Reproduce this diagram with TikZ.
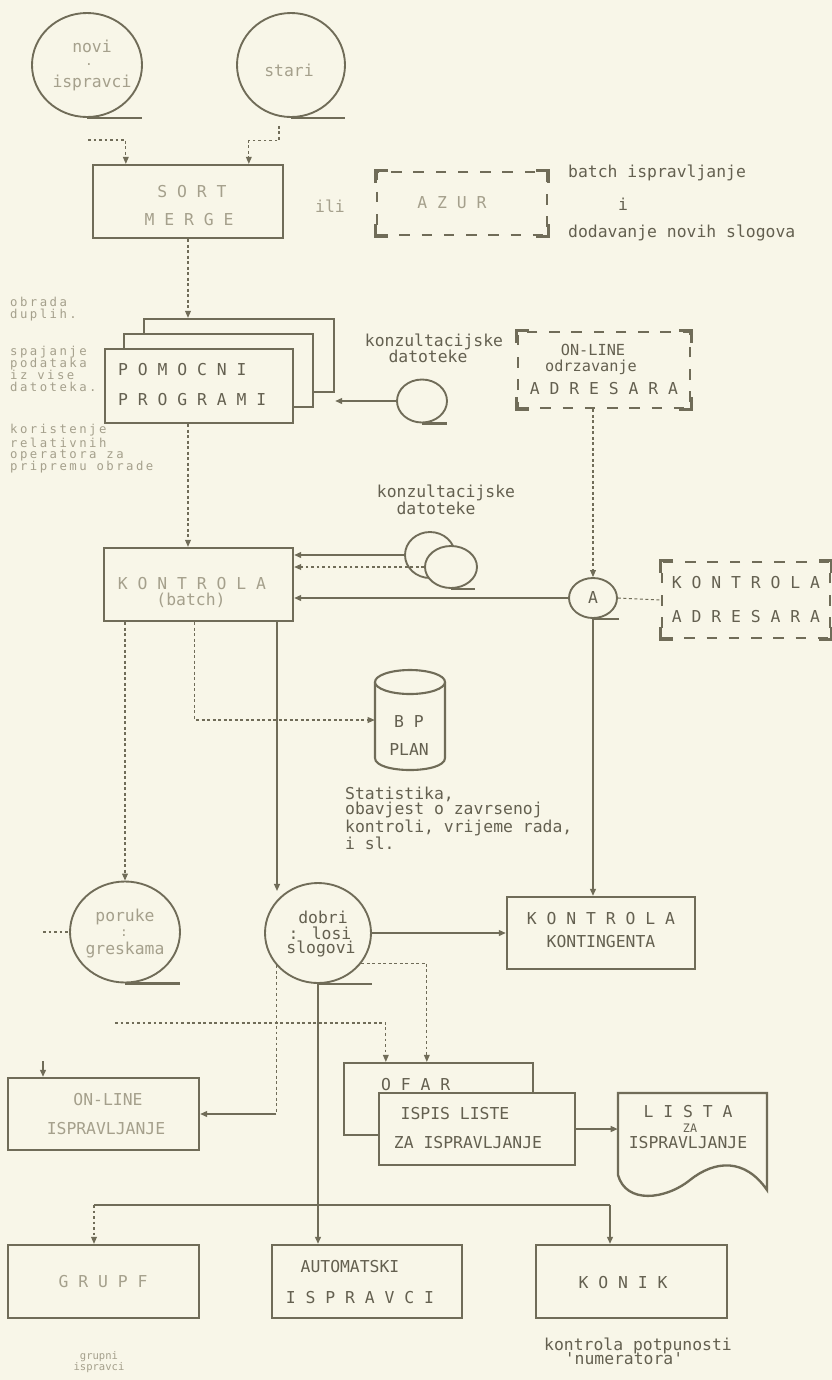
\documentclass[tikz,border=0pt]{standalone}
\usepackage{fontspec}
\newfontfamily\dm{DejaVu Sans Mono}
\newfontfamily\dml[LetterSpace=20]{DejaVu Sans Mono}
\usetikzlibrary{arrows.meta,shapes.geometric}
\definecolor{bg}{RGB}{248,246,232}
\definecolor{ink}{RGB}{112,108,88}
\definecolor{txt}{RGB}{100,96,80}
\definecolor{ftxt}{RGB}{165,160,140}
\newcommand\dashcorners[1]{%
 \draw[brk] (#1.north west) ++(0,12) -- ++(0,-12) -- ++(12,0);
 \draw[brk] (#1.north east) ++(0,12) -- ++(0,-12) -- ++(-12,0);
 \draw[brk] (#1.south west) ++(0,-12) -- ++(0,12) -- ++(12,0);
 \draw[brk] (#1.south east) ++(0,-12) -- ++(0,12) -- ++(-12,0);}
\begin{document}
\begin{tikzpicture}[x=0.3mm,y=-0.3mm,
 sz/.style 2 args={minimum width=#1*0.3mm,minimum height=#2*0.3mm},
 box/.style={draw=ink,line width=2pt,rectangle,inner sep=0pt},
 fbox/.style={box,fill=bg},
 dbox/.style={draw=ink,line width=2.2pt,dash pattern=on 9pt off 10pt,rectangle,inner sep=0pt},
 brk/.style={draw=ink,line width=2.2pt},
 tape/.style={draw=ink,line width=1.6pt,ellipse,inner sep=0pt,fill=bg},
 tail/.style={draw=ink,line width=2pt},
 conn/.style={draw=ink,line width=1.3pt},
 dconn/.style={draw=ink,line width=0.9pt,dash pattern=on 2.5pt off 2.2pt},
 arr/.style={-{Triangle[length=6pt,width=5pt]}},
 lab/.style={font=\dm\fontsize{14}{14}\selectfont,text=txt,inner sep=0pt},
 flab/.style={lab,text=ftxt},
 small/.style={font=\dml\fontsize{10.5}{10.2}\selectfont,text=ftxt,inner sep=0pt,align=left},
]
\fill[bg] (0,0) rectangle (832,1380);
\useasboundingbox (0,0) rectangle (832,1380);

% ---------- top tapes ----------
\node[tape,sz={110}{104}] (tnovi) at (87,65) {};
\draw[tail] (tnovi.south) -- ++(55,0);
\node[flab] (tn1) at (92,46) {novi};
\node[flab,font=\dm\fontsize{11}{11}\selectfont] (tn2) at (89,65) {.};
\node[flab] (tn3) at (92,83) {ispravci};
\node[tape,sz={108}{104}] (tstari) at (291,65) {};
\draw[tail] (tstari.south) -- ++(54,0);
\node[flab] (ts1) at (289,70) {stari};

% ---------- SORT MERGE ----------
\node[box,sz={190}{73}] (sort) at (188,201.5) {};
\node[flab] (sort1) at (192,192) {S O R T};
\node[flab] (sort2) at (189,220) {M E R G E};
\coordinate (cnovi) at (88,140);
\draw[dconn,arr] (cnovi) -| ([xshift=10.2mm]sort.north west);
\draw[dconn,arr] ([xshift=-3.6mm,yshift=-2.4mm]tstari.south) -- ++(0,15) -| ([xshift=47.1mm]sort.north west);
\node[flab] (ili) at (330,206) {ili};

% ---------- AZUR ----------
\node[dbox,sz={170}{63}] (azur) at (462,203.5) {};
\dashcorners{azur}
\node[flab] (azurt) at (452,203) {A Z U R};
\node[lab,anchor=west] (batch) at (568,173) {batch ispravljanje};
\node[lab] (ii) at (623,204) {i};
\node[lab,anchor=west] (dodav) at (568,233) {dodavanje novih slogova};

% ---------- POMOCNI PROGRAMI ----------
\node[box,sz={190}{73}] (pback) at (239,355.5) {};
\node[fbox,sz={189}{73}] (pmid) at (218.5,370.5) {};
\node[fbox,sz={188}{74}] (pfront) at (199,386) {};
\node[lab,anchor=west] (pom1) at (118,370) {P O M O C N I};
\node[lab,anchor=west] (pom2) at (118,400) {P R O G R A M I};
\draw[dconn,arr] (sort.south) -- (sort.south |- pback.north);

\node[small,anchor=west] (ann1) at (10,309) {obrada\\duplih.};
\node[small,anchor=west] (ann2) at (10,369) {spajanje\\podataka\\iz vise\\datoteka.};
\node[small,anchor=west] (ann3) at (10,449) {koristenje\\relativnih\\operatora za\\pripremu obrade};

% ---------- konzultacijske (upper) ----------
\node[lab] (kz1) at (434,342) {konzultacijske};
\node[lab] (kz2) at (428,356) {datoteke};
\node[tape,sz={50}{43}] (tk1) at (422,401) {};
\draw[tail] (tk1.south) -- ++(25,0);
\draw[conn,arr] (tk1.west) -- (tk1.west -| pback.east);

% ---------- ON-LINE odrzavanje ADRESARA ----------
\node[dbox,sz={172}{76}] (online) at (604,370) {};
\dashcorners{online}
\node[lab,font=\dm\fontsize{13}{13}\selectfont] (on1) at (593,350) {ON-LINE};
\node[lab,font=\dm\fontsize{13}{13}\selectfont] (on2) at (591,367) {odrzavanje};
\node[lab] (on3) at (604,389) {A D R E S A R A};

% ---------- KONTROLA batch ----------
\node[box,sz={189}{73}] (kbatch) at (198.5,584.5) {};
\node[flab] (kb1) at (192,584) {K O N T R O L A};
\node[flab] (kb2) at (191,600) {(batch)};
\draw[dconn,arr] (pfront.south -| sort.south) -- (sort.south |- kbatch.north);

% konzultacijske (lower), double tape
\node[lab] (kz3) at (446,493) {konzultacijske};
\node[lab] (kz4) at (436,508) {datoteke};
\node[tape,sz={50}{46}] (tk2b) at (430,555) {};
\node[tape,sz={52}{42}] (tk2f) at (451,567) {};
\draw[tail] (tk2f.south) -- ++(24,0);
\draw[conn,arr] (tk2b.west) -- (tk2b.west -| kbatch.east);
\draw[dconn,arr] (tk2f.west) -- (tk2f.west -| kbatch.east);

% circle A
\node[tape,sz={48}{40}] (tA) at (593,598) {};
\draw[tail] (tA.south) -- ++(26,0);
\node[lab] (tAt) at (593,598) {A};
\draw[dconn,arr] (tA.north |- online.south) -- (tA.north);
\draw[conn,arr] (tA.west) -- (tA.west -| kbatch.east);

% KONTROLA ADRESARA
\node[dbox,sz={168}{76}] (kadr) at (746,600) {};
\dashcorners{kadr}
\node[lab] (ka1) at (746,583) {K O N T R O L A};
\node[lab] (ka2) at (746,617) {A D R E S A R A};
\draw[dconn] (tA.east) -- (kadr.west);

% ---------- BP PLAN cylinder ----------
\node[inner sep=0pt,sz={70}{100}] (bp) at (410,720) {};
\draw[ink,line width=1.8pt,fill=bg] (375,682) -- (375,758) .. controls (375,774) and (445,774) .. (445,758) -- (445,682);
\draw[ink,line width=1.8pt,fill=bg] (410,682) ellipse [x radius=35,y radius=12];
\node[lab] (bp1) at (409,722) {B P};
\node[lab] (bp2) at (409,750) {PLAN};
\draw[dconn,arr] ([xshift=27.6mm]kbatch.south west) |- (bp.west);
\node[lab,anchor=west,align=left,font=\dm\fontsize{14}{9.6}\selectfont] (stat) at (345,818) {Statistika,\\obavjest o zavrsenoj\\kontroli, vrijeme rada,\\i sl.};

% ---------- circles pisuke / dobri ----------
\node[tape,sz={110}{101}] (tpis) at (125,932) {};
\draw[tail] (tpis.south) -- ++(55,0);
\node[flab] (tp1) at (125,917) {poruke};
\node[flab,font=\dm\fontsize{11}{11}\selectfont] (tp2) at (124,933) {:};
\node[flab] (tp3) at (125,950) {greskama};
\coordinate (pstub) at (43,932);
\draw[dconn] (pstub) -- (tpis.west);
\draw[dconn,arr] (tpis.north |- kbatch.south) -- (tpis.north);

\node[tape,sz={106}{100}] (tdob) at (318,933) {};
\draw[tail] (tdob.south) -- ++(54,0);
\node[lab] (td1) at (323,917) {dobri};
\node[lab] (td2) at (320,933) {: losi};
\node[lab] (td3) at (321,949) {slogovi};
\coordinate (dobin) at (277,891);
\draw[conn,arr] (kbatch.south -| dobin) -- (dobin);

% KONTROLA KONTINGENTA
\node[box,sz={188}{72}] (kkont) at (601,933) {};
\node[lab] (kk1) at (601,919) {K O N T R O L A};
\node[lab] (kk2) at (601,942) {KONTINGENTA};
\draw[conn,arr] (tdob.east) -- (kkont.west);
\draw[conn,arr] (tA.south) -- (tA.south |- kkont.north);

% ---------- OFAR / ISPIS LISTE ----------
\node[box,sz={189}{72}] (ofar) at (438.5,1099) {};
\node[lab,anchor=west] (of1) at (381,1085) {O F A R};
\node[fbox,sz={196}{72}] (ispis) at (477,1129) {};
\node[lab] (is1) at (455,1114) {ISPIS LISTE};
\node[lab] (is2) at (468,1143) {ZA ISPRAVLJANJE};
\draw[dconn,arr] (tdob.-35) -| ([xshift=25.2mm]ofar.north west);
\coordinate (fr) at (115,1023);
\draw[dconn,arr] (fr) -| ([xshift=12.9mm]ofar.north west);

% LISTA document
\node[inner sep=0pt,sz={149}{97}] (lista) at (692.5,1141.5) {};
\draw[ink,line width=2pt,fill=bg] (618,1175) -- (618,1093) -- (767,1093) -- (767,1190)
  .. controls (745,1158) and (715,1160) .. (690,1180)
  .. controls (665,1200) and (626,1204) .. (618,1175) -- cycle;
\node[lab] (li1) at (688,1112) {L I S T A};
\node[lab,font=\dm\fontsize{10}{10}\selectfont] (li2) at (690,1128) {ZA};
\node[lab] (li3) at (688,1143) {ISPRAVLJANJE};
\draw[conn,arr] (ispis.east) -- (ispis.east -| lista.west);

% ON-LINE ISPRAVLJANJE
\node[box,sz={191}{72}] (onl2) at (103.5,1114) {};
\node[flab] (ol1) at (108,1100) {ON-LINE};
\node[flab] (ol2) at (106,1129) {ISPRAVLJANJE};
\draw[dconn] (tdob.218) -- (tdob.218 |- onl2.east);
\draw[conn,arr] (tdob.218 |- onl2.east) -- (onl2.east);
\coordinate (ostub) at (43,1061);
\draw[conn,arr] (ostub) -- (ostub |- onl2.north);

% ---------- bottom row ----------
\node[box,sz={191}{73}] (grupf) at (103.5,1281.5) {};
\node[flab] (gr1) at (103,1282) {G R U P F};
\node[box,sz={190}{73}] (auto) at (367,1281.5) {};
\node[lab] (au1) at (350,1267) {AUTOMATSKI};
\node[lab] (au2) at (360,1298) {I S P R A V C I};
\node[box,sz={191}{73}] (konik) at (631.5,1281.5) {};
\node[lab] (kn1) at (623,1283) {K O N I K};
\draw[conn,arr] (tdob.south) -- (tdob.south |- auto.north);
\coordinate (brL) at (94,1205);
\coordinate (brR) at (610,1205);
\draw[conn] (brL) -- (brR);
\draw[dconn,arr] (brL) -- (brL |- grupf.north);
\draw[conn,arr] (brR) -- (brR |- konik.north);
\node[lab] (kp1) at (638,1346) {kontrola potpunosti};
\node[lab] (kp2) at (624,1359) {'numeratora'};
\node[small,font=\dm\fontsize{9}{9}\selectfont,align=center] (gi) at (99,1362) {grupni\\ispravci};
\end{tikzpicture}
\end{document}
